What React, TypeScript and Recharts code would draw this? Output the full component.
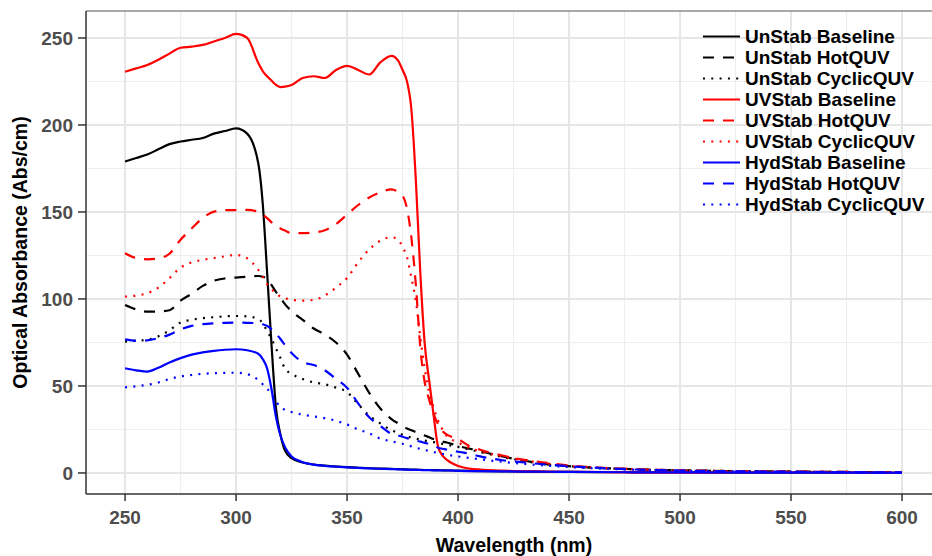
import React from 'react';
import { LineChart, Line, XAxis, YAxis, CartesianGrid, Legend, Label, ReferenceLine } from 'recharts';

const FONT = '"Liberation Sans", Arial, sans-serif';

const wavelength = [
  250, 255, 260, 265, 270, 275, 280, 285, 290, 295, 300, 305, 310,
  312, 314, 316, 318, 320, 322,
  325, 330, 335, 340, 345, 350, 355, 360, 365, 370,
  373, 375, 377, 379, 381, 383, 385, 387, 389, 391, 393, 395,
  400, 405, 410,
  420, 430, 440, 450,
  475, 500, 550, 600,
];

const unStabBaseline = [
  179, 181, 183, 186, 189, 190.5, 191.5, 192.5, 195, 196.5, 198, 195, 178,
  155, 115, 73, 37, 22, 13,
  8.5, 6, 4.8, 4.2, 3.7, 3.3, 3, 2.7, 2.5, 2.3,
  2.2, 2.1, 2, 1.9, 1.9, 1.8, 1.7, 1.7, 1.6, 1.6, 1.5, 1.5,
  1.3, 1.2, 1.1,
  0.9, 0.8, 0.7, 0.6,
  0.4, 0.3, 0.2, 0.1,
];
const unStabHot = [
  96.5, 94, 92.7, 92.8, 93.5, 99, 103, 107.5, 110.5, 111.8, 112.3, 112.8, 113.2,
  112.8, 111.5, 108, 104, 100.5, 97,
  93, 88, 83, 79.5, 75, 68, 57, 46, 37, 31,
  28.5, 27, 25.5, 24.5, 23.5, 22.5, 21.5, 20.5, 19.5, 19, 18, 17.5,
  15.5, 14, 12.5,
  9.5, 7, 5, 3.9,
  2.3, 1.5, 0.8, 0.4,
];
const unStabCyclic = [
  75.5, 76, 76.5, 78.5, 82, 86.5, 88, 89, 89.5, 90, 90.2, 90, 88.5,
  86, 81.5, 77, 71.5, 66, 60,
  57, 54, 52, 51, 49, 46.5, 39.5, 33, 28.5, 24.5,
  23, 22, 21, 20.3, 19.7, 19.2, 18.6, 18.2, 17.7, 17.2, 16.7, 16.2,
  15, 13.5, 12,
  9.2, 6.8, 5, 3.9,
  2.3, 1.5, 0.8, 0.4,
];
const uvStabBaseline = [
  230.6, 232.5, 234.5, 237.5, 241, 244.4, 245, 246, 248, 250, 252.3, 250, 235.6,
  231, 228, 225.5, 223, 221.8, 222,
  223, 227, 228, 227, 231.6, 234, 231.6, 229, 236, 239.7,
  237, 231.6, 225, 208.6, 168, 115, 74, 53, 33, 15, 10, 7.5,
  4, 2.5, 1.9,
  1.3, 1, 0.8, 0.6,
  0.4, 0.3, 0.2, 0.1,
];
const uvStabHot = [
  126.3, 123.5, 122.8, 123.3, 126, 134, 140.5, 146.5, 150.2, 151, 151.1, 151.2, 150,
  148.5, 146.5, 144, 141.8, 140.5, 139.3,
  137.8, 137.8, 138.2, 139.5, 143, 148.5, 154, 158.3, 161.3, 163,
  161.5, 159.5, 152, 135, 108, 72, 52, 42, 34, 28, 24, 22,
  19.5, 15.5, 13.3,
  10, 7.5, 5.8, 4.3,
  2.4, 1.5, 0.8, 0.4,
];
const uvStabCyclic = [
  101.3, 102, 103.3, 106.5, 112, 118, 121, 122.5, 123.5, 124.5, 125.3, 123.4, 116.7,
  113, 108.5, 105.5, 103.5, 101.3, 100.5,
  99.5, 99, 99.5, 102, 106.5, 112, 121, 128.5, 133.5, 135.5,
  134, 130, 124, 112, 99, 78, 60, 46, 37.5, 30, 25, 21,
  17.5, 14.5, 12.5,
  9.5, 7.2, 5.5, 4,
  2.3, 1.5, 0.8, 0.4,
];
const hydStabBaseline = [
  60.2, 59, 58.2, 60.5, 63.5, 66, 68, 69.3, 70.2, 70.8, 71.1, 70.5, 68.5,
  65.5, 60, 48, 32, 21.5, 15,
  9.5, 6.2, 4.8, 4.1, 3.6, 3.2, 2.9, 2.6, 2.4, 2.2,
  2.1, 2, 1.9, 1.8, 1.8, 1.7, 1.6, 1.6, 1.5, 1.5, 1.4, 1.4,
  1.2, 1.1, 1,
  0.9, 0.8, 0.7, 0.6,
  0.4, 0.3, 0.2, 0.1,
];
const hydStabHot = [
  76.8, 76, 76.2, 77.5, 79.5, 82.5, 84.5, 85.5, 86, 86.3, 86.4, 86.3, 86,
  85.5, 84.5, 82.5, 80, 77, 73.5,
  69, 63.7, 62, 59, 54, 49, 40, 32, 27, 22.5,
  21.5, 20.8, 20, 19.2, 18.6, 18, 17.3, 16.6, 16, 14.5, 13.9, 13.4,
  12.2, 11.1, 9.5,
  7.3, 6, 4.8, 3.9,
  2.2, 1.4, 0.7, 0.3,
];
const hydStabCyclic = [
  49.2, 49.8, 50.6, 52, 54, 55.5, 56.3, 57, 57.3, 57.5, 57.6, 56.8, 53.4,
  51, 48.5, 45, 41, 38, 36.3,
  35, 33.5, 32.5, 31.5, 30, 27.8, 25, 22.8, 19.7, 18.2,
  17.3, 16.8, 16, 15.3, 14.5, 13.8, 13.2, 12.6, 12, 11.5, 11, 10.5,
  9.5, 8.6, 7.8,
  6.4, 5.2, 4.2, 3.4,
  2, 1.3, 0.6, 0.3,
];

const xTicks = [250, 300, 350, 400, 450, 500, 550, 600];
const xMinor = [275, 325, 375, 425, 475, 525, 575];
const yTicks = [0, 50, 100, 150, 200, 250];
const yMinor = [25, 75, 125, 175, 225];

const DASHED = '11 9';
const DOTTED = '2 6.3';

const series = [
  { key: 'unBase', name: 'UnStab Baseline', color: '#000000', dash: undefined, values: unStabBaseline },
  { key: 'unHot', name: 'UnStab HotQUV', color: '#000000', dash: DASHED, values: unStabHot },
  { key: 'unCyc', name: 'UnStab CyclicQUV', color: '#000000', dash: DOTTED, values: unStabCyclic },
  { key: 'uvBase', name: 'UVStab Baseline', color: '#ff0000', dash: undefined, values: uvStabBaseline },
  { key: 'uvHot', name: 'UVStab HotQUV', color: '#ff0000', dash: DASHED, values: uvStabHot },
  { key: 'uvCyc', name: 'UVStab CyclicQUV', color: '#ff0000', dash: DOTTED, values: uvStabCyclic },
  { key: 'hydBase', name: 'HydStab Baseline', color: '#0000ff', dash: undefined, values: hydStabBaseline },
  { key: 'hydHot', name: 'HydStab HotQUV', color: '#0000ff', dash: DASHED, values: hydStabHot },
  { key: 'hydCyc', name: 'HydStab CyclicQUV', color: '#0000ff', dash: DOTTED, values: hydStabCyclic },
];

const data = wavelength.map((wl, i) => {
  const row: Record<string, number> = { wl };
  series.forEach(s => { row[s.key] = s.values[i]; });
  return row;
});

const tickStyle = { fill: '#4d4d4d', fontSize: 19, fontWeight: 700, fontFamily: FONT };
const titleStyle = { fill: '#000000', fontSize: 19.5, fontWeight: 700, fontFamily: FONT };

const renderLegend = () => (
  <div style={{ fontFamily: FONT, fontWeight: 700, fontSize: 19, color: '#000' }}>
    {series.map(s => (
      <div key={s.key} style={{ display: 'flex', alignItems: 'center', height: 21 }}>
        <svg width={37} height={21} style={{ flex: 'none' }}>
          <line x1={0} x2={37} y1={10.5} y2={10.5} stroke={s.color} strokeWidth={2.2} strokeDasharray={s.dash} />
        </svg>
        <span style={{ marginLeft: 5, lineHeight: '21px', whiteSpace: 'nowrap' }}>{s.name}</span>
      </div>
    ))}
  </div>
);

export default function App() {
  return (
    <div style={{ position: 'absolute', left: 0, top: 0, width: 932, height: 556, background: '#fff', fontFamily: FONT }}>
      <LineChart width={932} height={556} data={data} margin={{ top: 11, right: 0, bottom: 0, left: 0 }}>
        <CartesianGrid stroke="#eeeeee" strokeWidth={1.1} horizontalValues={yMinor} verticalValues={xMinor} />
        <CartesianGrid stroke="#e6e6e6" strokeWidth={2} horizontalValues={yTicks} verticalValues={xTicks} />
        <XAxis
          type="number"
          dataKey="wl"
          domain={[232.4, 613.5]}
          ticks={xTicks}
          allowDataOverflow
          height={62}
          tickSize={7}
          tickMargin={10}
          tick={tickStyle}
          axisLine={{ stroke: '#333333', strokeWidth: 1.5 }}
          tickLine={{ stroke: '#333333', strokeWidth: 1.5 }}
        >
          <Label value="Wavelength (nm)" position="insideBottom" offset={4} dx={5} style={titleStyle} />
        </XAxis>
        <YAxis
          type="number"
          domain={[-12.1, 265.5]}
          ticks={yTicks}
          allowDataOverflow
          width={86}
          tickSize={8}
          tickMargin={5}
          tick={tickStyle}
          axisLine={{ stroke: '#333333', strokeWidth: 1.5 }}
          tickLine={{ stroke: '#333333', strokeWidth: 1.5 }}
        >
          <Label
            value="Optical Absorbance (Abs/cm)"
            angle={-90}
            position="insideLeft"
            offset={20}
            style={{ ...titleStyle, textAnchor: 'middle' }}
          />
        </YAxis>
        <ReferenceLine y={265.5} stroke="#555555" strokeWidth={1.2} ifOverflow="visible" />
        <Legend
          content={renderLegend}
          layout="horizontal"
          verticalAlign="middle"
          align="center"
          wrapperStyle={{ left: 703, top: 26, width: 229, height: 189 }}
        />
        {series.map(s => (
          <Line
            key={s.key}
            type="monotone"
            dataKey={s.key}
            name={s.name}
            stroke={s.color}
            strokeWidth={2.2}
            strokeDasharray={s.dash}
            dot={false}
            activeDot={false}
            isAnimationActive={false}
          />
        ))}
      </LineChart>
    </div>
  );
}
